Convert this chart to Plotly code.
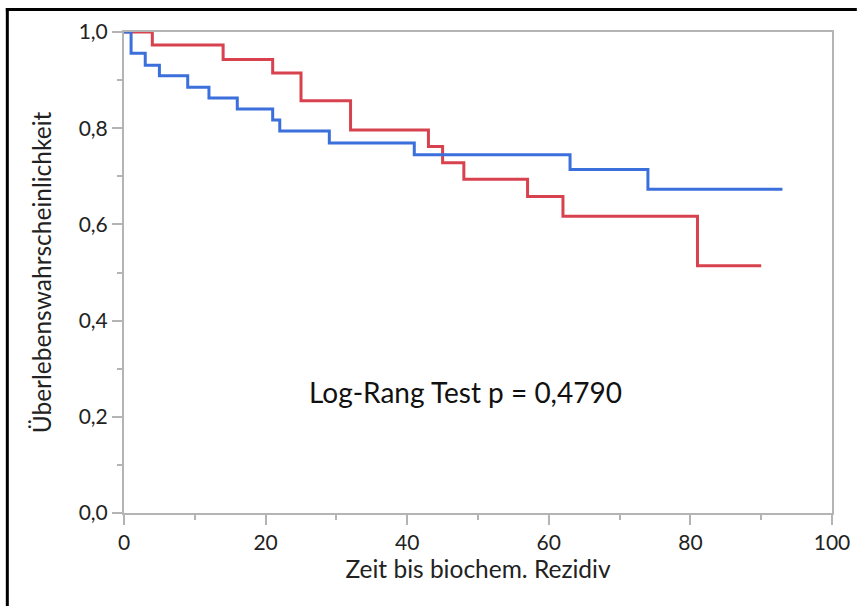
import plotly.graph_objects as go

# Kaplan-Meier data
blue_time = [0, 1, 3, 5, 9, 12, 16, 21, 22, 29, 41, 63, 74, 93]
blue_surv = [1.0, 0.956, 0.931, 0.909, 0.885, 0.863, 0.840, 0.817, 0.794, 0.769, 0.745, 0.714, 0.673, 0.673]
red_time = [0, 4, 14, 21, 25, 32, 43, 45, 48, 57, 62, 81, 90]
red_surv = [1.0, 0.973, 0.943, 0.915, 0.857, 0.796, 0.762, 0.728, 0.694, 0.658, 0.617, 0.514, 0.514]

x_ticks = [0, 20, 40, 60, 80, 100]
y_ticks = [0.0, 0.2, 0.4, 0.6, 0.8, 1.0]
y_tick_labels = ["0,0", "0,2", "0,4", "0,6", "0,8", "1,0"]

FONT = "Lato, 'Open Sans', sans-serif"
GRAY = "#b4b4b4"

fig = go.Figure()
fig.add_trace(go.Scatter(x=red_time, y=red_surv, mode="lines", line_shape="hv",
                         line=dict(color="#d8424f", width=3), showlegend=False))
fig.add_trace(go.Scatter(x=blue_time, y=blue_surv, mode="lines", line_shape="hv",
                         line=dict(color="#3b6fdc", width=3), showlegend=False))

W, H = 862, 606
L, R, T, B = 124, 25, 32, 93
pw, ph = W - L - R, H - T - B

def px(xp):
    return (xp - L) / pw

def py(yp):
    return (H - B - yp) / ph

fig.update_layout(
    width=W, height=H,
    margin=dict(l=L, r=R, t=T, b=B),
    paper_bgcolor="white", plot_bgcolor="white",
    font=dict(family=FONT, color="#222222"),
    annotations=[dict(text="Log-Rang Test p = 0,4790", x=px(468), y=py(392), xref="paper", yref="paper",
                      showarrow=False, font=dict(size=28, family=FONT, color="#111111"),
                      xanchor="center", yanchor="middle")],
    shapes=[
        dict(type="line", xref="paper", yref="paper", x0=px(5), x1=px(862), y0=py(9.5), y1=py(9.5),
             line=dict(color="black", width=3)),
        dict(type="line", xref="paper", yref="paper", x0=px(6.5), x1=px(6.5), y0=py(8), y1=py(606),
             line=dict(color="black", width=3)),
    ],
)
fig.update_xaxes(range=[0, 100], tickvals=x_ticks, ticks="outside", ticklen=10, tickwidth=1.5,
                 tickcolor=GRAY, showline=True, linecolor=GRAY, linewidth=2, mirror=True,
                 showgrid=False, zeroline=False, tickfont=dict(size=21, family=FONT, color="#222222"),
                 minor=dict(tickvals=[10, 30, 50, 70, 90], ticks="outside", ticklen=5, tickcolor=GRAY),
                 title_text="Zeit bis biochem. Rezidiv",
                 title_font=dict(size=24.5, family=FONT, color="#222222"), title_standoff=6)
fig.update_yaxes(range=[0, 1.0], tickvals=y_ticks, ticktext=y_tick_labels, ticks="outside", ticklen=10,
                 tickwidth=1.5, tickcolor=GRAY, showline=True, linecolor=GRAY, linewidth=2, mirror=True,
                 showgrid=False, zeroline=False, tickfont=dict(size=21, family=FONT, color="#222222"),
                 minor=dict(tickvals=[0.1, 0.3, 0.5, 0.7, 0.9], ticks="outside", ticklen=5, tickcolor=GRAY),
                 title_text="Überlebenswahrscheinlichkeit",
                 title_font=dict(size=24.5, family=FONT, color="#222222"), title_standoff=20)

fig.write_html("out.html")
